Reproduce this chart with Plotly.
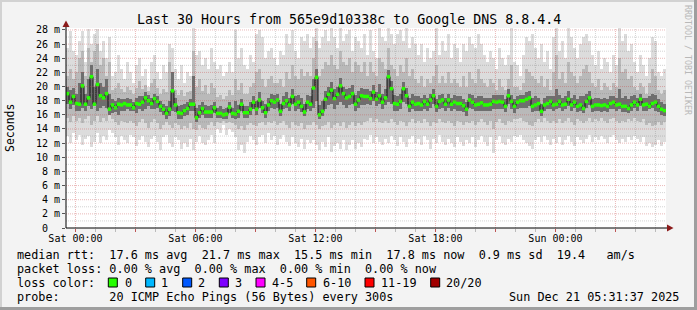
import plotly.graph_objects as go
import pandas as pd

# ---------------- data ----------------
START = "2025-12-19 23:31:37"
END = "2025-12-21 05:31:37"
STEP_MIN = 9  # one column every 9 minutes, 200 columns over 30 hours

median_ms = [
    19.0,17.8,18.6,17.6,17.5,20.1,17.5,18.4,21.4,17.5,20.3,18.7,18.4,19.0,16.8,17.4,17.0,17.5,17.4,17.6,
    17.4,17.4,17.0,17.6,17.5,17.8,18.4,18.0,17.6,18.3,17.9,17.2,16.8,16.2,16.8,19.4,17.4,16.3,16.2,16.6,
    16.9,17.5,17.5,15.6,16.3,16.9,16.4,16.4,16.4,17.0,
    16.2,16.2,16.0,16.1,17.1,16.2,16.1,16.5,17.5,16.3,16.3,16.8,17.8,16.8,18.1,17.0,16.3,17.4,18.0,17.8,
    18.1,16.5,17.6,18.0,17.4,18.6,17.5,17.8,17.2,16.4,17.8,17.5,19.8,21.3,16.0,16.5,18.2,18.9,19.5,18.3,
    18.9,20.1,19.0,18.4,18.6,19.0,17.5,18.1,18.7,18.6,
    18.6,18.3,19.2,18.2,18.7,17.8,18.4,21.4,19.7,17.6,17.5,17.9,19.7,18.7,17.2,17.8,17.5,17.6,17.4,17.9,
    17.5,18.1,18.7,17.2,17.9,18.1,17.5,18.1,17.5,17.8,17.6,17.6,17.3,16.8,18.1,17.8,17.4,17.5,17.7,17.4,
    17.4,17.5,17.9,17.8,17.9,17.8,17.2,18.7,17.9,17.2,
    17.8,18.0,18.0,18.2,18.4,17.2,17.4,17.6,16.5,17.4,17.6,17.9,17.4,17.5,17.9,17.4,17.5,18.2,17.4,17.8,
    17.2,17.4,16.9,17.9,18.4,17.2,17.4,17.4,17.3,17.4,17.2,17.6,17.8,17.4,17.5,17.2,17.2,16.9,17.4,17.8,
    17.4,18.2,17.4,17.5,17.2,17.6,17.8,17.2,16.8,16.6,
]
max_ms = [
    25.5,27.8,25.0,24.5,26.5,27.8,23.5,28.2,26.0,27.5,28.2,25.0,26.5,24.0,27.0,
    21.5,22.0,24.5,22.5,21.0,23.5,22.0,20.5,23.0,24.0,21.5,22.5,20.0,23.5,24.5,22.0,21.0,23.0,22.0,
    26.0,25.5,22.5,21.0,23.0,20.5,22.0,21.5,28.3,24.5,25.0,23.0,24.0,22.5,25.5,23.5,
    22.5,23.0,21.5,22.0,23.5,22.0,28.0,24.0,25.5,23.0,22.5,24.5,23.5,27.5,28.0,27.0,24.0,25.0,
    25.5,24.0,23.0,25.0,24.5,27.5,26.0,28.0,25.0,24.0,27.0,26.5,27.5,25.5,27.0,28.3,25.5,
    27.0,28.0,26.5,28.3,27.0,25.5,28.3,26.5,27.5,28.0,25.0,27.0,26.5,25.5,27.5,
    24.5,28.0,25.0,24.0,28.3,27.0,26.5,28.3,27.5,26.0,27.5,28.0,26.5,28.3,25.5,27.0,26.0,
    24.5,26.0,23.5,25.5,24.0,25.0,28.3,24.5,26.5,25.0,27.5,24.0,26.0,25.5,23.5,26.0,25.0,
    27.0,26.0,25.5,27.5,26.0,24.5,23.5,25.0,24.0,22.5,25.5,24.0,23.0,24.5,28.3,23.5,
    23.0,21.5,24.5,27.0,26.5,27.5,25.5,24.0,26.0,23.5,25.0,22.5,27.0,28.3,
    25.0,26.5,24.0,28.3,27.0,25.5,24.0,26.0,27.0,27.5,26.5,24.5,
    23.0,25.0,22.5,24.0,23.5,22.0,24.5,23.0,28.3,26.5,27.5,25.0,26.0,
    23.5,22.0,24.5,23.0,21.5,24.0,27.0,26.5,22.0,21.5,22.5,
]
min_ms = [
    13.0,12.0,13.5,12.5,13.2,11.8,12.6,13.0,11.5,12.2,13.4,12.0,13.0,12.5,13.8,
    13.5,12.8,11.8,13.0,12.5,12.0,13.2,12.8,11.6,12.4,13.0,12.2,11.4,12.6,13.0,12.2,11.0,12.8,13.2,
    12.0,11.5,12.8,12.5,11.2,12.0,11.5,12.6,11.0,12.2,13.0,12.0,11.8,12.5,13.2,12.0,
    14.0,13.5,14.5,13.2,14.0,13.6,12.8,11.0,11.8,10.6,12.2,13.0,12.5,11.8,12.8,13.2,12.0,13.5,
    12.5,13.0,11.8,12.6,13.2,12.2,11.6,12.8,12.0,11.5,12.6,11.2,12.4,12.0,12.5,11.8,11.0,
    12.2,11.5,12.8,10.8,11.6,12.0,11.2,12.5,11.0,11.8,12.4,11.2,12.0,11.5,12.6,
    12.5,13.2,12.0,12.8,12.2,11.8,12.6,12.0,13.0,12.4,11.6,12.8,12.2,11.4,12.6,13.0,12.0,
    12.6,11.8,13.0,12.4,11.2,12.6,12.0,13.2,12.2,11.8,12.6,12.0,11.4,12.8,12.2,11.6,12.4,
    12.0,12.8,11.5,12.4,13.0,12.2,11.6,12.8,10.6,12.4,13.0,12.0,11.8,12.6,12.2,13.0,
    12.8,13.2,12.4,12.0,11.6,11.2,12.4,12.8,12.2,13.0,12.4,11.8,12.6,12.0,
    12.8,11.8,12.4,13.0,12.2,11.6,12.8,12.4,12.0,12.6,13.2,12.2,
    12.8,12.4,13.0,12.6,12.0,12.8,13.2,12.4,12.0,12.6,12.2,12.8,12.4,
    13.0,12.6,12.2,12.8,11.6,12.0,11.4,11.8,12.4,11.6,12.2,
]
p90_ms = [
    21.5,22.5,21.0,22.0,24.0,25.0,21.5,25.5,23.5,25.0,26.0,23.0,24.0,21.5,23.5,
    19.5,19.8,20.5,19.6,19.2,20.0,19.5,19.0,19.8,20.8,19.6,20.2,19.4,20.5,21.0,19.8,19.0,19.6,19.2,
    23.5,22.0,19.5,18.8,19.5,18.6,19.2,19.4,25.0,20.0,21.0,19.4,20.2,19.0,20.5,19.8,
    18.5,18.8,18.2,18.6,19.5,18.8,21.0,19.5,20.5,19.0,19.0,20.0,20.5,22.0,22.5,21.0,20.0,21.0,
    21.5,20.5,20.5,21.0,20.0,22.0,21.0,23.0,21.5,21.0,22.5,21.5,22.0,21.5,24.0,26.5,21.5,
    22.5,23.5,23.0,24.5,23.0,22.5,25.0,23.5,23.0,24.0,22.0,23.5,23.0,22.0,23.5,
    21.5,23.5,22.0,21.5,24.0,23.5,22.5,25.5,23.0,22.5,21.5,23.0,22.0,24.0,21.5,22.5,21.0,
    20.5,21.5,20.0,21.0,20.5,21.5,23.0,20.5,21.5,20.5,22.0,20.5,21.0,20.5,20.0,21.5,20.0,
    22.0,21.0,20.5,22.5,21.0,20.5,20.0,21.0,20.5,19.5,21.0,20.0,19.5,21.0,23.0,20.0,
    20.0,19.5,20.5,22.5,22.0,21.5,21.0,20.5,21.5,20.0,21.0,19.5,22.0,24.5,
    21.0,22.0,20.5,23.5,22.0,21.5,20.5,21.5,22.5,23.0,22.0,20.5,
    20.0,21.0,19.5,20.5,20.0,19.5,20.5,20.0,24.0,22.0,22.5,21.0,21.5,
    20.0,19.5,20.5,20.0,19.0,20.5,22.5,21.5,19.5,19.0,19.5,
]
p10_ms = [
    15.5,15.0,15.8,15.2,15.6,14.8,15.4,15.8,14.6,15.2,15.8,15.0,15.6,15.2,16.0,
    15.4,15.0,14.6,15.2,15.0,14.8,15.2,14.8,14.4,15.0,15.4,14.8,14.2,15.0,15.4,14.8,14.0,14.6,15.0,
    14.6,14.2,14.8,14.6,14.0,14.4,14.2,14.8,14.0,13.8,14.6,14.2,14.0,14.6,15.0,14.4,
    15.0,14.8,15.2,14.8,15.0,14.8,14.6,14.0,14.4,13.8,14.6,14.8,14.6,14.4,14.8,15.0,14.6,15.0,
    14.8,15.2,14.6,14.8,15.2,14.6,14.2,15.0,14.6,14.4,14.8,14.0,14.6,14.6,15.0,14.6,14.0,
    14.4,14.6,15.0,14.2,14.6,14.8,14.4,15.0,14.2,14.6,15.0,14.4,14.8,14.6,15.0,
    15.2,15.6,15.0,15.4,15.0,14.8,15.2,14.8,15.4,15.0,14.6,15.2,15.0,14.4,15.0,15.4,14.8,
    15.2,14.8,15.4,15.0,14.4,15.0,14.8,15.4,15.0,14.8,15.2,14.8,14.4,15.2,15.0,14.6,15.0,
    14.8,15.2,14.6,15.0,15.4,15.0,14.6,15.2,14.0,15.0,15.4,14.8,14.6,15.2,15.0,15.4,
    15.4,15.6,15.2,15.0,14.6,14.4,15.0,15.4,15.0,15.6,15.2,14.8,15.2,14.8,
    15.4,14.8,15.2,15.6,15.0,14.6,15.4,15.2,14.8,15.2,15.6,15.0,
    15.4,15.2,15.6,15.2,14.8,15.4,15.6,15.2,14.8,15.2,15.0,15.4,15.2,
    15.6,15.2,15.0,15.4,14.6,14.8,14.4,14.6,15.0,14.6,15.0,
]
p75_ms = [
    20.0,19.5,19.8,19.0,20.5,22.0,19.0,21.0,23.0,20.0,22.5,20.5,20.0,21.0,19.0,
    18.2,18.0,18.4,18.3,18.2,18.4,18.2,17.8,18.4,18.6,18.6,19.2,18.8,18.4,19.0,18.6,18.0,17.6,17.2,
    18.0,22.0,18.4,17.2,17.4,17.6,17.8,18.2,21.5,17.0,17.4,17.8,17.4,17.3,17.4,17.8,
    17.0,17.2,16.8,17.0,17.8,17.0,18.0,17.4,18.2,17.2,17.2,17.8,18.6,18.0,19.2,18.0,17.6,18.4,
    19.0,18.8,19.0,17.6,18.6,19.2,18.4,19.6,18.6,18.8,18.4,17.6,18.8,18.6,21.0,22.5,17.4,
    18.0,19.4,20.0,20.6,19.6,20.0,21.2,20.0,19.6,19.8,20.2,18.8,19.4,19.8,19.6,
    19.6,19.4,20.2,19.2,20.4,19.0,19.6,22.4,20.8,18.8,18.6,19.0,20.6,19.8,18.4,19.0,18.6,
    18.6,18.4,18.8,18.4,19.0,19.6,18.2,18.8,19.0,18.4,19.0,18.4,18.8,18.6,18.6,18.2,17.8,
    19.0,18.8,18.4,18.6,18.6,18.4,18.4,18.4,18.8,18.8,18.8,18.8,18.2,19.6,18.8,18.2,
    18.6,18.8,18.8,19.2,19.4,18.4,18.6,18.4,17.6,18.4,18.6,18.6,18.6,19.6,
    18.8,18.4,18.6,19.4,18.4,18.8,18.2,18.6,18.6,19.0,19.4,18.2,
    18.4,18.4,18.2,18.4,18.2,18.6,18.6,18.4,19.6,18.4,18.6,18.2,18.6,
    18.8,18.4,19.0,18.4,18.4,18.6,19.0,18.8,18.2,17.8,17.6,
]
p25_ms = [
    17.6,16.8,17.4,16.6,16.6,17.0,16.6,17.2,16.8,17.2,16.6,17.0,17.2,17.0,16.0,
    16.2,16.4,16.0,16.6,16.6,16.8,16.6,16.6,16.2,16.8,16.6,16.8,17.2,16.8,16.8,17.0,16.4,16.0,15.4,
    15.8,16.6,16.4,15.4,15.4,15.8,16.0,16.6,16.6,15.0,15.6,16.0,15.6,15.6,15.6,16.2,
    15.6,15.6,15.4,15.4,16.2,15.6,15.4,15.6,16.6,15.6,15.6,16.0,16.8,16.0,17.0,16.2,15.6,16.6,
    17.0,16.8,17.0,15.8,16.8,17.0,16.6,17.6,16.6,16.8,16.4,15.8,16.8,16.6,17.0,18.0,15.4,
    15.8,16.8,17.4,17.6,16.8,17.4,17.8,17.4,17.0,17.4,17.6,16.6,17.0,17.4,17.4,
    17.6,17.4,18.0,17.2,17.6,16.8,17.4,17.8,17.6,16.6,16.6,16.8,17.8,17.6,16.4,16.8,16.6,
    16.6,16.6,16.8,16.6,17.0,17.6,16.4,16.8,17.0,16.6,17.0,16.6,16.8,16.6,16.6,16.4,15.8,
    17.0,16.8,16.6,16.6,16.6,16.6,16.6,16.6,16.8,16.8,16.8,16.8,16.4,17.6,16.8,16.2,
    16.8,17.0,17.0,17.0,17.2,16.4,16.6,16.6,15.8,16.6,16.8,16.8,16.6,16.8,
    17.0,16.6,16.8,17.2,16.6,17.0,16.4,16.6,16.2,17.0,17.4,16.4,
    16.6,16.6,16.4,16.6,16.4,16.8,16.8,16.6,16.8,16.4,16.4,16.2,16.6,
    17.0,16.6,17.2,16.6,16.6,16.8,17.0,16.6,16.4,16.0,15.8,
]

x_tick_vals = ["2025-12-20 00:00", "2025-12-20 03:00", "2025-12-20 06:00", "2025-12-20 09:00",
               "2025-12-20 12:00", "2025-12-20 15:00", "2025-12-20 18:00", "2025-12-20 21:00",
               "2025-12-21 00:00", "2025-12-21 03:00"]
x_tick_text = ["Sat 00:00", "", "Sat 06:00", "", "Sat 12:00", "", "Sat 18:00", "", "Sun 00:00", ""]
y_tick_vals = list(range(0, 29, 2))
y_tick_text = ["0\u00a0\u00a0"] + [f"{v}\u00a0m" for v in range(2, 29, 2)]
Y_MAX = 28.28

title_text = "Last 30 Hours from 565e9d10338c to Google DNS 8.8.4.4"
rtt_values = ["17.6", "21.7", "15.5", "17.8", "0.9"]
rtt_names = ["avg", "max", "min", "now", "sd"]
am_s = "19.4"
loss_values = ["0.00", "0.00", "0.00", "0.00"]
loss_names = ["avg", "max", "min", "now"]
loss_labels = ["0", "1", "2", "3", "4-5", "6-10", "11-19", "20/20"]
loss_colors = ["#26ff00", "#00b8ff", "#0059ff", "#7e00ff", "#ff00ff", "#ff5500", "#ff0000", "#a10000"]
probe_text = "20 ICMP Echo Pings (56 Bytes) every 300s"
stamp_text = "Sun Dec 21 05:31:37 2025"

# ---------------- layout helpers (pixels -> paper) ----------------
W, H = 697, 310
L, R, T, B = 66, 666, 28, 228
def px(x):
    return (x - L) / (R - L)
def py(y):
    return (B - y) / (B - T)
NB = "\u00a0"
MONO = "DejaVu Sans Mono"

times = pd.date_range(START, periods=len(median_ms), freq=f"{STEP_MIN}min") + pd.Timedelta(minutes=STEP_MIN / 2)
bar_w = STEP_MIN * 60 * 1000

fig = go.Figure()

def band(lo, hi, color):
    fig.add_trace(go.Bar(x=times, base=lo, y=[h - l for h, l in zip(hi, lo)], width=bar_w,
                         marker=dict(color=color, line=dict(width=0)),
                         hoverinfo="skip", showlegend=False))

band(min_ms, max_ms, "#dcdcdc")
band(p10_ms, p90_ms, "#b9b9b9")
band(p25_ms, p75_ms, "#6e6e6e")

fig.add_trace(go.Scatter(x=times, y=median_ms, mode="lines",
                         line=dict(color="#111111", width=1, shape="hvh"),
                         hoverinfo="skip", showlegend=False))
fig.add_trace(go.Scatter(x=times, y=median_ms, mode="markers",
                         marker=dict(symbol="square", size=3.5, color=loss_colors[0], line=dict(width=0)),
                         hoverinfo="skip", showlegend=False))

MAJ = "rgba(200,70,70,0.38)"
MIN = "rgba(120,120,120,0.32)"
shapes = []
# grid (drawn above the smoke, dotted)
hours = pd.date_range("2025-12-20 00:00", END, freq="1h")
for i, hdt in enumerate(hours):
    major = (i % 3 == 0)
    shapes.append(dict(type="line", xref="x", yref="paper", x0=hdt, x1=hdt, y0=0, y1=1, layer="above",
                       line=dict(color=MAJ if major else MIN, width=1, dash="1px,1px")))
for v in range(1, 29):
    major = (v % 2 == 0)
    shapes.append(dict(type="line", xref="paper", yref="y", x0=0, x1=1, y0=v, y1=v, layer="above",
                       line=dict(color=MAJ if major else MIN, width=1, dash="1px,1px")))
# axis lines and arrows
shapes.append(dict(type="line", xref="paper", yref="paper", x0=px(66), x1=px(66), y0=py(228), y1=py(25),
                   line=dict(color="black", width=1), layer="above"))
shapes.append(dict(type="line", xref="paper", yref="paper", x0=px(66), x1=px(669), y0=py(228), y1=py(228),
                   line=dict(color="black", width=1), layer="above"))
ARROW = "#8b1a1a"
shapes.append(dict(type="path", xref="paper", yref="paper", layer="above",
                   path=f"M {px(62.5)},{py(27)} L {px(69.5)},{py(27)} L {px(66)},{py(20.5)} Z",
                   fillcolor=ARROW, line=dict(width=0)))
shapes.append(dict(type="path", xref="paper", yref="paper", layer="above",
                   path=f"M {px(667)},{py(224.5)} L {px(667)},{py(231.5)} L {px(673.5)},{py(228)} Z",
                   fillcolor=ARROW, line=dict(width=0)))
# 3D frame of the image
shapes.append(dict(type="rect", xref="paper", yref="paper", x0=px(0), x1=px(697), y0=py(0), y1=py(2),
                   fillcolor="#d2d2d2", line=dict(width=0), layer="below"))
shapes.append(dict(type="rect", xref="paper", yref="paper", x0=px(0), x1=px(2), y0=py(0), y1=py(310),
                   fillcolor="#d2d2d2", line=dict(width=0), layer="below"))
shapes.append(dict(type="rect", xref="paper", yref="paper", x0=px(0), x1=px(697), y0=py(307), y1=py(310),
                   fillcolor="#9e9e9e", line=dict(width=0), layer="below"))
shapes.append(dict(type="rect", xref="paper", yref="paper", x0=px(694), x1=px(697), y0=py(0), y1=py(310),
                   fillcolor="#9e9e9e", line=dict(width=0), layer="below"))

# loss colour boxes
box_x = [108.3, 145.7, 182.7, 219.3, 256, 306.7, 365, 430.7]
lab_x = [122.5, 159, 196, 233, 270, 321, 379, 444]
for bx, col in zip(box_x, loss_colors):
    shapes.append(dict(type="rect", xref="paper", yref="paper", x0=px(bx), x1=px(bx + 9),
                       y0=py(287), y1=py(278), fillcolor=col, line=dict(color="black", width=1)))

ann = []
def text(x, y, s, size=11.8, anchor="left", angle=0, color="black"):
    ann.append(dict(x=px(x), y=py(y), xref="paper", yref="paper", text=s.replace(" ", NB),
                    showarrow=False, xanchor=anchor, yanchor="middle", textangle=angle,
                    font=dict(family=MONO, size=size, color=color)))

text(348.5, 19.5, title_text, size=13.3, anchor="center")
text(10, 128, "Seconds", size=11.5, anchor="center", angle=-90)
text(688, 60, "RRDTOOL / TOBI OETIKER", size=8.3, anchor="center", angle=90, color="#b8b8b8")

line1 = "median rtt:  " + "  ".join(f"{v} ms {n}" for v, n in zip(rtt_values, rtt_names)) + f"  {am_s}   am/s"
line2 = "packet loss: " + "  ".join(f"{v} % {n}" for v, n in zip(loss_values, loss_names))
text(15, 255, line1)
text(15, 269, line2)
text(15, 283, "loss color:")
for lx, lab in zip(lab_x, loss_labels):
    text(lx, 283, lab)
text(15, 297, "probe:       " + probe_text)
text(681, 297, stamp_text, anchor="right")

fig.update_layout(
    width=W, height=H, autosize=False,
    margin=dict(l=L, r=W - R, t=T, b=H - B, pad=0),
    paper_bgcolor="#f3f3f3", plot_bgcolor="white",
    barmode="overlay", bargap=0, showlegend=False,
    shapes=shapes, annotations=ann,
    font=dict(family=MONO, size=10, color="black"),
    xaxis=dict(type="date", range=[START, END], tickmode="array", tickvals=x_tick_vals, ticktext=x_tick_text,
               ticks="outside", ticklen=3, tickcolor="rgba(190,60,60,0.8)", showgrid=False, zeroline=False,
               showline=False, ticklabelstandoff=-2, tickfont=dict(family=MONO, size=10, color="black"),
               minor=dict(dtick=3600000, tick0="2025-12-20 00:00", ticks="outside", ticklen=3,
                          tickcolor="#bbbbbb", showgrid=False)),
    yaxis=dict(range=[0, Y_MAX], tickmode="array", tickvals=y_tick_vals, ticktext=y_tick_text,
               ticks="outside", ticklen=3, tickcolor="#555555", showgrid=False, zeroline=False,
               showline=False, tickfont=dict(family=MONO, size=10, color="black")),
)

fig.write_html("out.html")
